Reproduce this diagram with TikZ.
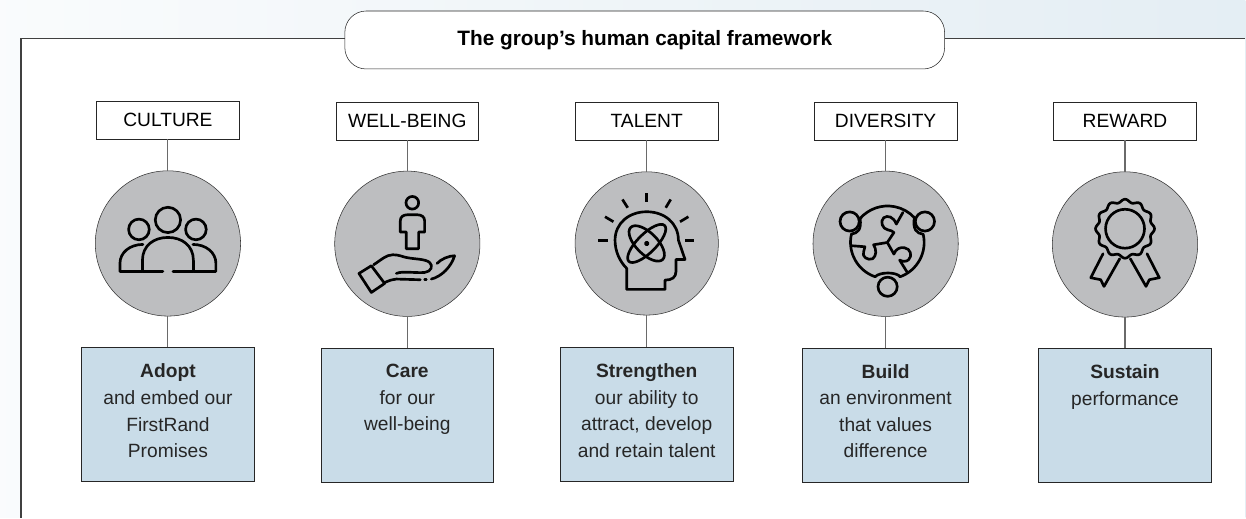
\documentclass[tikz,border=0pt]{standalone}
\usepackage{fontspec}
\setmainfont{Liberation Sans}
\usepackage{tikz}
\usetikzlibrary{positioning, calc}
\definecolor{discgrey}{HTML}{BDBEC0}
\definecolor{boxblue}{HTML}{C9DCE8}
\definecolor{linegrey}{HTML}{6A6A6A}

\begin{document}
\begin{tikzpicture}[
  x=0.75pt, y=-0.75pt,
  heading/.style={draw=black!85, fill=white, minimum width=107pt, minimum height=28.5pt, inner sep=0pt, font=\fontsize{14.4}{16}\selectfont},
  disc/.style={draw=black!80, fill=discgrey, circle, minimum size=109pt, inner sep=0pt},
  blurb/.style={draw=black!85, fill=boxblue, minimum width=129.5pt, minimum height=100.5pt, inner sep=0pt},
  blurbtext/.style={font=\fontsize{14.4}{19.9}\selectfont, align=center, inner sep=0pt, text=black!85},
  stem/.style={draw=linegrey, line width=0.8pt},
  icon/.style={draw=black, line width=2pt, line join=round, line cap=round}
]
% Background and title
\fill[left color=white!90!boxblue, right color=boxblue!50!white] (0,0) rectangle (1246,518);
\fill[white] (21,38.5) rectangle (1246,518);
\node[draw=black!85, fill=white, rounded corners=16pt, minimum width=450pt, minimum height=43.5pt, font=\fontsize{15.6}{18}\selectfont\bfseries] (title) at (645,40) {The group’s human capital framework};
\coordinate (cornertl) at (21,38.5);
\coordinate (cornerbl) at (21,518);
\coordinate (cornertr) at (1246,38.5);
\draw[draw=black!75, line width=0.8pt] (title.west |- cornertl) -- (cornertl) -- (cornerbl);
\draw[draw=black!75, line width=0.8pt] (title.east |- cornertr) -- (cornertr);

% Headings
\node[heading] (culture) at (168,120) {CULTURE};
\node[heading] (wellbeing) at (407.5,121) {WELL-BEING};
\node[heading] (talent) at (647,121) {TALENT};
\node[heading] (diversity) at (886,121) {DIVERSITY};
\node[heading] (reward) at (1125.5,121) {REWARD};

% Discs
\node[disc, below=23.5pt of culture] (culturedisc) {};
\node[disc, below=23pt of wellbeing] (wellbeingdisc) {};
\node[disc, below=23.5pt of talent, minimum size=107.5pt] (talentdisc) {};
\node[disc, below=23pt of diversity] (diversitydisc) {};
\node[disc, below=23.5pt of reward] (rewarddisc) {};

% Text boxes
\node[blurb, below=23.3pt of culturedisc] (culturebox) {};
\node[blurb, below=23.3pt of wellbeingdisc] (wellbeingbox) {};
\node[blurb, below=24pt of talentdisc] (talentbox) {};
\node[blurb, below=23.3pt of diversitydisc, minimum width=124.5pt] (diversitybox) {};
\node[blurb, below=23pt of rewarddisc] (rewardbox) {};

\node[blurbtext, below=12.3pt of culturebox.north] {\textbf{Adopt}\\and embed our\\FirstRand\\Promises};
\node[blurbtext, below=12.3pt of wellbeingbox.north] {\textbf{Care}\\for our\\well-being};
\node[blurbtext, below=12.3pt of talentbox.north] {\textbf{Strengthen}\\our ability to\\attract, develop\\and retain talent};
\node[blurbtext, below=12.3pt of diversitybox.north] {\textbf{Build}\\an environment\\that values\\difference};
\node[blurbtext, below=12.3pt of rewardbox.north] {\textbf{Sustain}\\performance};

% Stems
\foreach \nm in {culture, wellbeing, talent, diversity, reward} {
  \draw[stem] (\nm) -- (\nm disc);
  \draw[stem] (\nm disc) -- (\nm box);
}

% Culture icon
\begin{scope}[shift={(culturedisc.center)}, every path/.style={icon}]
  \draw (0,-23.5) circle (9.5pt);
  \draw (-29,-14) circle (7.75pt);
  \draw (28,-14) circle (7.75pt);
  \draw (-5,28) -- (-25.5,28) -- (-25.5,17) .. controls (-25.5,2) and (-14,-6) .. (0,-6) .. controls (14,-6) and (25.5,2) .. (25.5,17) -- (25.5,28) -- (5,28);
  \draw (-25,1) .. controls (-38,1) and (-48,9) .. (-48,20) -- (-48,28) -- (-25.5,28);
  \draw (25,1) .. controls (38,1) and (48,9) .. (48,20) -- (48,28) -- (25.5,28);
\end{scope}

% Well-being icon
\begin{scope}[shift={(wellbeingdisc.center)}, every path/.style={icon}]
  \draw (5,-41) circle (4.75pt);
  \draw (-1,5) -- (-1,-11.7) -- (-7,-11.7) -- (-7,-23) .. controls (-7,-27) and (-4,-29) .. (0,-29) -- (10,-29) .. controls (14,-29) and (17.3,-27) .. (17.3,-23) -- (17.3,-11.7) -- (11.3,-11.7) -- (11.3,5) -- cycle;
  \draw (-48.4,29.7) -- (-36,48.7) -- (-22.7,39.7) -- (-36,22) -- cycle;
  \draw (-33.7,21) .. controls (-26,16) and (-21,11) .. (-14.4,11) .. controls (-8,11) and (-5,13) .. (-1,13.7) .. controls (7,15.5) and (18,15) .. (22.3,18.7) .. controls (26,22) and (24,28) .. (17.3,28.7) .. controls (8,29.5) and (-5,27) .. (-11,29.7);
  \draw (-22.7,38.7) .. controls (-18,37) and (-15,35.3) .. (-11,35.3) -- (13,36);
  \draw (17.3,36) -- (19,36);
  \draw (24,35.3) .. controls (34,33) and (44,23) .. (47.3,12) .. controls (42,12) and (34,15) .. (29.7,19.7);
\end{scope}

% Talent icon
\begin{scope}[shift={(talentdisc.center)}, every path/.style={icon}]
  \foreach \xa/\ya/\xb/\yb in {0/-50/0/-41, -24.3/-44/-19/-35.7, 24/-44/19/-35.7, -41.7/-26.7/-33.3/-21.7, 41.7/-26.7/33.3/-21.7, -48.3/-2.7/-39/-2.7, 38.3/-2.7/47.7/-2.7}
    \draw[line cap=butt] (\xa,\ya) -- (\xb,\yb);
  \draw (-20,46) -- (-20,25) .. controls (-27,18) and (-31.7,8) .. (-31.7,-3.3) .. controls (-31.7,-20) and (-18,-31.7) .. (0,-31.7) .. controls (18,-31.7) and (31.7,-20) .. (31.7,-3.3) -- (38.3,16) -- (29.3,16) -- (29.3,28) .. controls (29.3,34) and (25,36.7) .. (18.3,36.7) -- (18.3,46) -- cycle;
  \draw[rotate=45] (0,0) ellipse [x radius=19pt, y radius=7pt];
  \draw[rotate=-45] (0,0) ellipse [x radius=17pt, y radius=8pt];
  \fill (0,0) circle (1.1pt);
\end{scope}

% Diversity icon
\begin{scope}[shift={(diversitydisc.center)}, every path/.style={icon}]
  \draw (-36,-22.3) circle (7.2pt);
  \draw (39.3,-22.3) circle (7.2pt);
  \draw (2,43) circle (7.2pt);
  \draw (2,-1.3) ++(-139:36.5) arc[start angle=-139, end angle=-43, radius=36.5]
    .. controls (27,-14) and (31,-10.5) .. (37.6,-9.5) arc[start angle=-13, end angle=70, radius=36.5]
    .. controls (11,28) and (-6,28) .. (-10.5,33) arc[start angle=109, end angle=193, radius=36.5]
    .. controls (-28,-10.5) and (-24,-14) .. (-25.5,-25.2);
  \draw (17.3,-31.3) -- (10.7,-19.7) .. controls (8,-27) and (2,-29) .. (-2,-26) .. controls (-6,-22) and (-3,-15) .. (2,-14) .. controls (5,-13) and (7,-13) .. (8.3,-11.3) -- (1.7,-1.3) -- (-12,1) .. controls (-9,6) and (-9,12) .. (-13,15) .. controls (-18,17) and (-24,13) .. (-22,8) .. controls (-21.5,6) and (-21,5) .. (-20.7,3) -- (-33.3,2);
  \draw (1.7,-1.3) -- (8.3,10.3) .. controls (10,5) and (15,3) .. (19,4) .. controls (25,5) and (27,12) .. (23,16) .. controls (21,18) and (17,18) .. (14,16.3) -- (21.7,28.7);
\end{scope}

% Reward icon
\begin{scope}[shift={(rewarddisc.center)}, every path/.style={icon}]
  \draw (0,-15.7) circle (14.6pt);
  \draw[shift={(0,-15.7)}] plot[domain=0:360, samples=145, smooth] (\x:{28+1.5*cos(12*\x)}) -- cycle;
  \draw (-22,9.3) -- (-34.3,33.3) -- (-24.3,35.3) -- (-21,42) -- (-5.3,14.3);
  \draw (22,9.3) -- (34.3,33.3) -- (24.3,35.3) -- (21,42) -- (5.3,14.3);
\end{scope}
\end{tikzpicture}
\end{document}
